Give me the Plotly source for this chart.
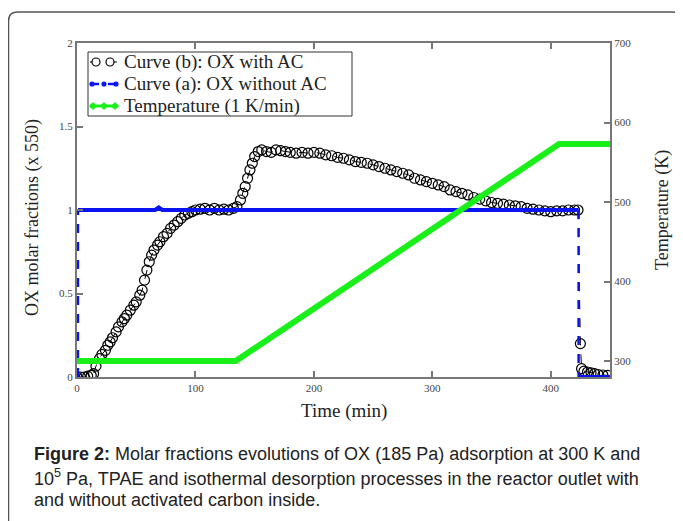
import plotly.graph_objects as go

# Curve (b): OX with activated carbon (x 550)
b_time = [0, 3, 6, 9, 12, 14, 16, 19, 21, 24, 26, 28, 30, 33, 35, 38, 40, 42, 45, 48,
          50, 53, 55, 57, 59, 61, 63, 65, 68, 70, 73, 76, 79, 82, 85, 88, 91, 94, 97,
          100, 104, 108, 112, 116, 120, 124, 128, 132, 135, 138, 140, 142, 144, 146,
          148, 150, 153, 156, 160, 164, 168, 172, 176, 180, 185, 190, 195, 200, 205,
          210, 215, 220, 225, 230, 235, 240, 245, 250, 255, 260, 265, 270, 275, 280,
          285, 290, 295, 300, 305, 310, 315, 320, 325, 330, 335, 340, 345, 350, 355,
          360, 365, 370, 375, 380, 385, 390, 395, 400, 405, 410, 415, 420, 423, 425,
          426, 428, 431, 434, 437, 440, 444, 448]
b_frac = [0.0, 0.0, 0.0, 0.005, 0.01, 0.02, 0.065, 0.11, 0.135, 0.16, 0.19, 0.21, 0.235,
          0.27, 0.30, 0.33, 0.35, 0.37, 0.40, 0.43, 0.45, 0.49, 0.52, 0.58, 0.64, 0.69,
          0.73, 0.76, 0.79, 0.81, 0.84, 0.86, 0.89, 0.91, 0.93, 0.95, 0.97, 0.98, 0.99,
          1.0, 1.005, 1.01, 1.0, 1.01, 1.0, 1.005, 1.0, 1.01, 1.02, 1.06, 1.10, 1.14,
          1.19, 1.24, 1.28, 1.32, 1.35, 1.36, 1.35, 1.345, 1.36, 1.355, 1.35, 1.345,
          1.34, 1.345, 1.34, 1.345, 1.34, 1.33, 1.325, 1.315, 1.31, 1.30, 1.29, 1.285,
          1.28, 1.27, 1.26, 1.25, 1.24, 1.23, 1.22, 1.21, 1.19, 1.18, 1.17, 1.16, 1.15,
          1.14, 1.12, 1.11, 1.10, 1.09, 1.075, 1.065, 1.055, 1.045, 1.04, 1.035, 1.03,
          1.025, 1.02, 1.01, 1.005, 1.0, 0.995, 0.99, 0.995, 0.995, 1.0, 1.0, 1.0, 0.2,
          0.05, 0.035, 0.03, 0.025, 0.02, 0.015, 0.012, 0.01]

# Curve (a): OX without activated carbon
a_time = [0.8, 0.8, 66, 69, 72, 423.5, 423.5, 450]
a_frac = [0.0, 1.0, 1.0, 1.015, 1.0, 1.0, 0.0, 0.0]

# Temperature programme (1 K/min)
temp_time = [0, 134, 407, 450]
temp_k = [300, 300, 573, 573]

legend_names = ["Curve (b): OX with AC", "Curve (a): OX without AC", "Temperature (1 K/min)"]

SERIF = "Liberation Serif, Times New Roman, serif"
TXT = "#222222"
AXIS_GRAY = "#777777"
BLUE = "#0a14f0"
GREEN = "#19f019"

# page has an 8px body margin; layout below is in screenshot pixels
OFF = 8
PX_L, PX_R, PX_T, PX_B = 77, 610, 43, 377
W_PX, H_PX = PX_R - PX_L, PX_B - PX_T


def px(x):
    return (x - PX_L) / W_PX


def py(y):
    return (PX_B - y) / H_PX


fig = go.Figure()

fig.add_trace(go.Scatter(
    x=b_time, y=b_frac, mode="lines+markers", name=legend_names[0],
    line=dict(color="black", width=1, dash="dash"),
    marker=dict(symbol="circle-open", size=10, color="black", line=dict(width=1.2)),
))

# flat parts of curve (a)
flat_t = a_time[1:6] + [None] + a_time[6:]
flat_y = a_frac[1:6] + [None] + a_frac[6:]
fig.add_trace(go.Scatter(
    x=flat_t, y=flat_y, mode="lines", name=legend_names[1],
    line=dict(color=BLUE, width=4),
))
# vertical steps of curve (a), dashed
step_t = a_time[0:2] + [None] + a_time[5:7]
step_y = a_frac[0:2] + [None] + a_frac[5:7]
fig.add_trace(go.Scatter(
    x=step_t, y=step_y, mode="lines", hoverinfo="skip",
    line=dict(color=BLUE, width=2.5, dash="dash"),
))

fig.add_trace(go.Scatter(
    x=temp_time, y=temp_k, mode="lines", name=legend_names[2], yaxis="y2",
    line=dict(color=GREEN, width=6),
))

tickfont = dict(family=SERIF, size=11, color="#444444")
axis_common = dict(
    showgrid=False, zeroline=False, showline=True, linecolor=AXIS_GRAY, linewidth=2,
    ticks="inside", ticklen=6, tickcolor=AXIS_GRAY, tickwidth=1.5, tickfont=tickfont,
)

fig.update_layout(
    width=683 - OFF, height=521 - OFF,
    margin=dict(l=PX_L - OFF, r=683 - PX_R, t=PX_T - OFF, b=521 - PX_B),
    paper_bgcolor="white", plot_bgcolor="white",
    font=dict(family=SERIF, size=18, color=TXT),
    showlegend=False,
    xaxis=dict(range=[0, 450], tickvals=[0, 100, 200, 300, 400], mirror="ticks",
               **axis_common),
    yaxis=dict(range=[0, 2], tickvals=[0, 0.5, 1, 1.5, 2],
               ticktext=["0", "0.5", "1", "1.5", "2"], mirror=True, **axis_common),
    yaxis2=dict(range=[280, 700], tickvals=[300, 400, 500, 600, 700], overlaying="y",
                side="right", **axis_common),
)


def note(text, x, y, size=18, angle=0, xanchor="center", font=SERIF):
    fig.add_annotation(text=text, x=px(x), y=py(y), xref="paper", yref="paper",
                       xanchor=xanchor, yanchor="middle", showarrow=False,
                       textangle=angle, borderpad=0,
                       font=dict(family=font, size=size, color=TXT))


# axis titles
note("Time (min)", 344, 411, size=19)
note("OX molar fractions (x 550)", 32, 218, angle=-90)
note("Temperature (K)", 662, 210, angle=-90)

# legend box drawn by hand (MATLAB-style, tight rows)
fig.add_shape(type="rect", x0=px(88), x1=px(352), y0=py(116), y1=py(52),
              xref="paper", yref="paper", line=dict(color="#333333", width=1),
              fillcolor="white", layer="above")
rows = [62, 84, 106]
for name, ry in zip(legend_names, rows):
    note(name, 123, ry, size=19, xanchor="left")


def seg(y, color, width, dash="solid"):
    fig.add_shape(type="line", x0=px(90), x1=px(118), y0=py(y), y1=py(y),
                  xref="paper", yref="paper", layer="above",
                  line=dict(color=color, width=width, dash=dash))


def dot(x, y, r, color, fill, kind="circle"):
    if kind == "circle":
        fig.add_shape(type="circle", x0=px(x - r), x1=px(x + r), y0=py(y + r),
                      y1=py(y - r), xref="paper", yref="paper", layer="above",
                      line=dict(color=color, width=1.2), fillcolor=fill)
    else:
        path = (f"M {px(x - r)},{py(y)} L {px(x)},{py(y - r)} L {px(x + r)},{py(y)} "
                f"L {px(x)},{py(y + r)} Z")
        fig.add_shape(type="path", path=path, xref="paper", yref="paper",
                      layer="above", line=dict(color=color, width=1), fillcolor=fill)


seg(rows[0], "black", 1, "dash")
for cx in (96, 110):
    dot(cx, rows[0], 4, "black", "white")
seg(rows[1], BLUE, 2.5, "dash")
for cx in (92, 104, 116):
    dot(cx, rows[1], 2, BLUE, BLUE)
seg(rows[2], GREEN, 3)
for cx in (93, 104, 115):
    dot(cx, rows[2], 3.5, GREEN, GREEN, kind="diamond")

# caption
cap = "Liberation Sans, Arial, sans-serif"
caption = [
    "<b>Figure 2:</b> Molar fractions evolutions of OX (185 Pa) adsorption at 300 K and",
    "10<sup>5</sup> Pa, TPAE and isothermal desorption processes in the reactor outlet with",
    "and without activated carbon inside.",
]
for line, ypix in zip(caption, [454, 477, 500]):
    note(line, 33, ypix, size=18, xanchor="left", font=cap)

# rounded outer frame
x0, x1, y0, y1, r = px(8.5), px(681), py(12), py(540), 9
rx, ry = r / W_PX, r / H_PX
frame = (f"M {x0},{y1} L {x0},{y0 - ry} Q {x0},{y0} {x0 + rx},{y0} "
         f"L {x1 - rx},{y0} Q {x1},{y0} {x1},{y0 - ry} L {x1},{y1}")
fig.add_shape(type="path", path=frame, xref="paper", yref="paper",
              line=dict(color="#555555", width=1.5), layer="below")

fig.write_html("out.html")
